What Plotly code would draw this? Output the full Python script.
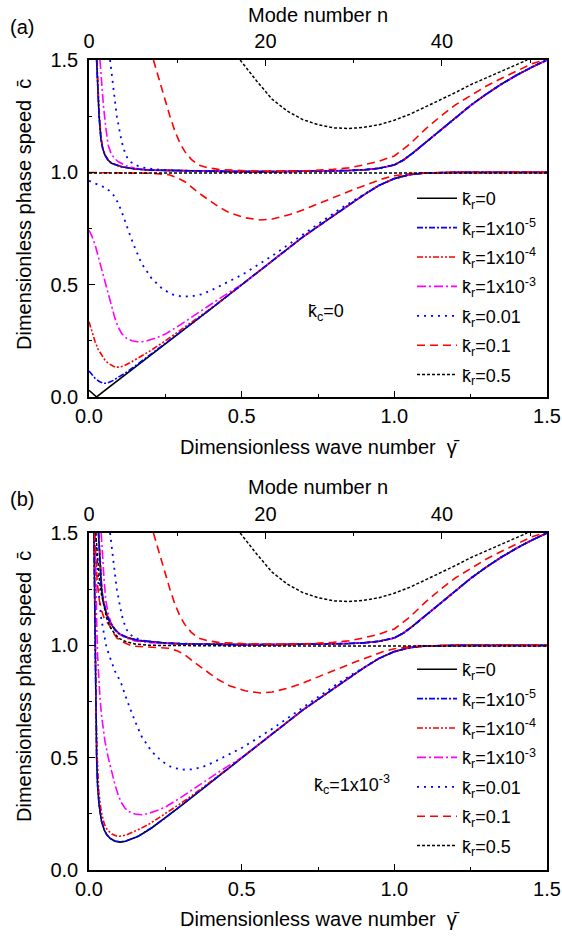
import plotly.graph_objects as go

# ---------------- data ----------------
# common upper-branch tail (curves with k_r <= 0.01)
UP_TAIL_G = [0.3, 0.4, 0.5, 0.6, 0.7, 0.8, 0.85, 0.9, 0.95, 1.0, 1.03, 1.06, 1.1, 1.15, 1.2, 1.25, 1.3, 1.35, 1.4, 1.45, 1.5]
UP_TAIL_C = [1.007, 1.004, 1.003, 1.003, 1.004, 1.006, 1.008, 1.011, 1.018, 1.033, 1.055, 1.085, 1.13, 1.186, 1.245, 1.298, 1.347, 1.392, 1.432, 1.468, 1.5]
# common lower-branch tail
LOW_TAIL_G = [0.5, 0.6, 0.7, 0.8, 0.85, 0.9, 0.95, 1.0, 1.05, 1.1, 1.2, 1.3, 1.5]
LOW_TAIL_C = [0.5, 0.607, 0.712, 0.806, 0.855, 0.9, 0.942, 0.972, 0.99, 0.997, 1.0, 1.0, 1.0]

# ---- panel (a), k_c = 0 ----
a_k0_up_g = [0.025, 0.028, 0.033, 0.039, 0.045, 0.052, 0.062, 0.074, 0.09, 0.107, 0.13, 0.151, 0.2]
a_k0_up_c = [1.5, 1.374, 1.25, 1.15, 1.105, 1.077, 1.055, 1.04, 1.031, 1.025, 1.019, 1.015, 1.01]
a_k0_lo_g = [0.0, 0.025, 0.05, 0.1, 0.15, 0.2, 0.25, 0.3, 0.35, 0.4, 0.45]
a_k0_lo_c = [0.03, 0.0, 0.027, 0.08, 0.132, 0.185, 0.237, 0.289, 0.341, 0.393, 0.446]

a_k5_up_g = [0.025, 0.028, 0.033, 0.039, 0.045, 0.052, 0.062, 0.074, 0.09, 0.107, 0.13, 0.151, 0.2]
a_k5_up_c = [1.5, 1.374, 1.25, 1.15, 1.105, 1.077, 1.055, 1.04, 1.031, 1.025, 1.019, 1.015, 1.01]
a_k5_lo_g = [0.0, 0.01, 0.02, 0.035, 0.047, 0.058, 0.069, 0.08, 0.096, 0.12, 0.15, 0.2, 0.25, 0.3, 0.35, 0.4, 0.45]
a_k5_lo_c = [0.116, 0.1, 0.083, 0.068, 0.061, 0.061, 0.066, 0.074, 0.088, 0.108, 0.137, 0.187, 0.238, 0.29, 0.341, 0.393, 0.446]

a_k4_up_g = [0.026, 0.029, 0.034, 0.04, 0.046, 0.053, 0.063, 0.075, 0.09, 0.107, 0.13, 0.151, 0.2]
a_k4_up_c = [1.5, 1.374, 1.25, 1.15, 1.105, 1.077, 1.055, 1.04, 1.031, 1.025, 1.019, 1.015, 1.01]
a_k4_lo_g = [0.0, 0.01, 0.02, 0.03, 0.041, 0.052, 0.063, 0.075, 0.085, 0.1, 0.115, 0.14, 0.172, 0.2, 0.25, 0.3, 0.35, 0.4, 0.45]
a_k4_lo_c = [0.335, 0.29, 0.246, 0.212, 0.187, 0.165, 0.15, 0.139, 0.133, 0.133, 0.139, 0.157, 0.182, 0.205, 0.25, 0.297, 0.345, 0.395, 0.446]

a_k3_up_g = [0.036, 0.041, 0.047, 0.055, 0.063, 0.072, 0.083, 0.096, 0.12, 0.15, 0.2]
a_k3_up_c = [1.5, 1.4, 1.3, 1.2, 1.12, 1.085, 1.062, 1.047, 1.03, 1.018, 1.011]
a_k3_lo_g = [0.0, 0.01, 0.02, 0.03, 0.041, 0.052, 0.063, 0.074, 0.085, 0.096, 0.107, 0.12, 0.14, 0.16, 0.175, 0.19, 0.216, 0.25, 0.3, 0.35, 0.4, 0.45]
a_k3_lo_c = [0.742, 0.715, 0.677, 0.625, 0.573, 0.512, 0.454, 0.4, 0.35, 0.31, 0.283, 0.264, 0.25, 0.246, 0.246, 0.25, 0.261, 0.28, 0.322, 0.368, 0.414, 0.458]

a_k2_up_g = [0.069, 0.074, 0.08, 0.091, 0.1, 0.107, 0.115, 0.123, 0.135, 0.151, 0.175, 0.205, 0.25]
a_k2_up_c = [1.5, 1.43, 1.374, 1.25, 1.18, 1.136, 1.1, 1.07, 1.048, 1.033, 1.022, 1.015, 1.01]
a_k2_lo_g = [0.0, 0.031, 0.058, 0.08, 0.096, 0.107, 0.118, 0.129, 0.14, 0.151, 0.172, 0.205, 0.238, 0.271, 0.303, 0.336, 0.369, 0.402, 0.456, 0.5, 0.55, 0.604, 0.66, 0.713, 0.77, 0.822, 0.87, 0.9]
a_k2_lo_c = [0.962, 0.944, 0.929, 0.899, 0.862, 0.825, 0.78, 0.736, 0.699, 0.662, 0.595, 0.528, 0.484, 0.457, 0.447, 0.448, 0.457, 0.476, 0.513, 0.543, 0.585, 0.632, 0.685, 0.736, 0.79, 0.837, 0.877, 0.902]

a_k1_up_g = [0.211, 0.23, 0.249, 0.265, 0.282, 0.298, 0.314, 0.335, 0.358, 0.39, 0.424, 0.47, 0.511, 0.6, 0.7, 0.8, 0.85, 0.9, 0.95, 1.0, 1.05, 1.1, 1.15, 1.2, 1.25, 1.3, 1.35, 1.4, 1.45, 1.49]
a_k1_up_c = [1.5, 1.41, 1.329, 1.25, 1.181, 1.13, 1.092, 1.058, 1.033, 1.02, 1.013, 1.009, 1.007, 1.005, 1.006, 1.013, 1.02, 1.033, 1.05, 1.073, 1.125, 1.19, 1.248, 1.3, 1.342, 1.383, 1.418, 1.452, 1.483, 1.5]
a_k1_lo_g = [0.0, 0.1, 0.2, 0.26, 0.29, 0.314, 0.34, 0.369, 0.4, 0.424, 0.46, 0.511, 0.56, 0.6, 0.658, 0.7, 0.767, 0.8, 0.877, 0.92, 0.964, 1.0, 1.06, 1.15, 1.5]
a_k1_lo_c = [0.999, 0.998, 0.996, 0.99, 0.975, 0.958, 0.93, 0.899, 0.87, 0.847, 0.82, 0.798, 0.788, 0.792, 0.812, 0.832, 0.869, 0.888, 0.929, 0.95, 0.972, 0.985, 0.995, 0.999, 1.0]

a_k05_up_g = [0.495, 0.55, 0.6, 0.65, 0.7, 0.75, 0.8, 0.85, 0.9, 0.95, 1.0, 1.05, 1.1, 1.15, 1.2, 1.25, 1.3, 1.35, 1.4, 1.435]
a_k05_up_c = [1.5, 1.405, 1.325, 1.272, 1.235, 1.212, 1.198, 1.195, 1.2, 1.212, 1.232, 1.258, 1.29, 1.322, 1.355, 1.39, 1.42, 1.45, 1.48, 1.5]
a_k05_lo_g = [0.0, 0.5, 1.0, 1.5]
a_k05_lo_c = [0.997, 0.997, 0.996, 0.997]

# ---- panel (b), k_c = 1e-3 ----
b_k0_up_g = [0.031, 0.034, 0.037, 0.041, 0.046, 0.052, 0.058, 0.07, 0.085, 0.1, 0.129, 0.16, 0.205, 0.25]
b_k0_up_c = [1.5, 1.42, 1.33, 1.255, 1.2, 1.16, 1.136, 1.1, 1.07, 1.05, 1.033, 1.022, 1.015, 1.01]
b_k0_lo_g = [0.016, 0.018, 0.02, 0.022, 0.025, 0.028, 0.033, 0.041, 0.05, 0.058, 0.07, 0.085, 0.102, 0.12, 0.14, 0.162, 0.205, 0.25, 0.3, 0.35, 0.4, 0.45]
b_k0_lo_c = [1.5, 1.2, 0.9, 0.7, 0.5, 0.38, 0.29, 0.217, 0.178, 0.157, 0.14, 0.128, 0.124, 0.128, 0.137, 0.15, 0.187, 0.231, 0.284, 0.338, 0.392, 0.445]

b_k5_up_g = [0.031, 0.034, 0.037, 0.041, 0.046, 0.052, 0.058, 0.07, 0.085, 0.1, 0.129, 0.16, 0.205, 0.25]
b_k5_up_c = [1.5, 1.42, 1.33, 1.255, 1.2, 1.16, 1.136, 1.1, 1.07, 1.05, 1.033, 1.022, 1.015, 1.01]
b_k5_lo_g = [0.016, 0.018, 0.02, 0.022, 0.025, 0.028, 0.033, 0.041, 0.05, 0.058, 0.07, 0.085, 0.102, 0.12, 0.14, 0.162, 0.205, 0.25, 0.3, 0.35, 0.4, 0.45]
b_k5_lo_c = [1.5, 1.2, 0.9, 0.7, 0.5, 0.38, 0.29, 0.218, 0.179, 0.158, 0.141, 0.129, 0.125, 0.129, 0.138, 0.151, 0.188, 0.232, 0.285, 0.338, 0.392, 0.445]

b_k4_up_g = [0.032, 0.035, 0.038, 0.042, 0.047, 0.053, 0.059, 0.071, 0.086, 0.1, 0.129, 0.16, 0.205, 0.25]
b_k4_up_c = [1.5, 1.42, 1.33, 1.255, 1.2, 1.16, 1.136, 1.1, 1.07, 1.05, 1.033, 1.022, 1.015, 1.01]
b_k4_lo_g = [0.017, 0.019, 0.021, 0.023, 0.027, 0.032, 0.04, 0.05, 0.06, 0.075, 0.09, 0.1, 0.12, 0.14, 0.17, 0.2, 0.25, 0.3, 0.35, 0.4, 0.45]
b_k4_lo_c = [1.5, 1.2, 0.95, 0.72, 0.5, 0.35, 0.26, 0.205, 0.178, 0.16, 0.151, 0.15, 0.155, 0.166, 0.185, 0.207, 0.25, 0.296, 0.344, 0.394, 0.446]

b_k3_up_g = [0.04, 0.044, 0.049, 0.055, 0.063, 0.072, 0.085, 0.1, 0.12, 0.15, 0.2]
b_k3_up_c = [1.5, 1.4, 1.3, 1.2, 1.14, 1.1, 1.07, 1.05, 1.033, 1.02, 1.012]
b_k3_lo_g = [0.02, 0.022, 0.025, 0.028, 0.031, 0.036, 0.041, 0.046, 0.052, 0.063, 0.074, 0.085, 0.096, 0.107, 0.118, 0.13, 0.151, 0.172, 0.19, 0.216, 0.25, 0.3, 0.35, 0.4, 0.45]
b_k3_lo_c = [1.5, 1.3, 1.1, 0.96, 0.86, 0.765, 0.69, 0.63, 0.575, 0.5, 0.435, 0.38, 0.332, 0.298, 0.275, 0.26, 0.249, 0.246, 0.25, 0.261, 0.28, 0.322, 0.368, 0.414, 0.458]

b_k2_up_g = [0.069, 0.074, 0.08, 0.091, 0.1, 0.107, 0.115, 0.123, 0.135, 0.151, 0.175, 0.205, 0.25]
b_k2_up_c = [1.5, 1.43, 1.374, 1.25, 1.18, 1.136, 1.1, 1.07, 1.048, 1.033, 1.022, 1.015, 1.01]
b_k2_lo_g = [0.022, 0.027, 0.033, 0.04, 0.048, 0.056, 0.065, 0.075, 0.085, 0.096, 0.107, 0.118, 0.129, 0.14, 0.151, 0.172, 0.205, 0.238, 0.271, 0.303, 0.336, 0.369, 0.402, 0.456, 0.5, 0.55, 0.604, 0.66, 0.713, 0.77, 0.822, 0.87, 0.9]
b_k2_lo_c = [1.5, 1.35, 1.22, 1.12, 1.05, 1.0, 0.96, 0.92, 0.885, 0.857, 0.825, 0.78, 0.736, 0.699, 0.662, 0.595, 0.528, 0.484, 0.457, 0.447, 0.448, 0.457, 0.476, 0.513, 0.543, 0.585, 0.632, 0.685, 0.736, 0.79, 0.837, 0.877, 0.902]

b_k1_up_g = a_k1_up_g
b_k1_up_c = a_k1_up_c
b_k1_lo_g = [0.018, 0.022, 0.027, 0.034, 0.042, 0.05, 0.06, 0.069, 0.08, 0.091, 0.105, 0.118, 0.135, 0.151, 0.205, 0.26, 0.29, 0.314, 0.34, 0.369, 0.4, 0.424, 0.46, 0.511, 0.56, 0.6, 0.658, 0.7, 0.767, 0.8, 0.877, 0.92, 0.964, 1.0, 1.06, 1.15, 1.5]
b_k1_lo_c = [1.5, 1.38, 1.28, 1.2, 1.15, 1.12, 1.1, 1.085, 1.055, 1.033, 1.018, 1.01, 1.0, 0.996, 0.991, 0.987, 0.975, 0.958, 0.93, 0.899, 0.87, 0.847, 0.82, 0.798, 0.788, 0.792, 0.812, 0.832, 0.869, 0.888, 0.929, 0.95, 0.972, 0.985, 0.995, 0.999, 1.0]

b_k05_up_g = a_k05_up_g
b_k05_up_c = a_k05_up_c
b_k05_lo_g = [0.022, 0.026, 0.03, 0.035, 0.041, 0.05, 0.058, 0.07, 0.085, 0.1, 0.118, 0.15, 0.2, 0.5, 1.0, 1.5]
b_k05_lo_c = [1.5, 1.42, 1.35, 1.28, 1.225, 1.16, 1.12, 1.08, 1.05, 1.03, 1.018, 1.006, 1.0, 0.997, 0.996, 0.997]

LEGEND_LABELS = ["k\u0304<sub>r</sub>=0", "k\u0304<sub>r</sub>=1x10<sup>-5</sup>", "k\u0304<sub>r</sub>=1x10<sup>-4</sup>",
                 "k\u0304<sub>r</sub>=1x10<sup>-3</sup>", "k\u0304<sub>r</sub>=0.01", "k\u0304<sub>r</sub>=0.1",
                 "k\u0304<sub>r</sub>=0.5"]
X_TICKS = [0.0, 0.5, 1.0, 1.5]
N_TICKS = [0, 20, 40]

# ---------------- helpers ----------------
FONT = "Liberation Sans, Arial, sans-serif"

def join(ug, uc, lg, lc, up_tail=False, low_tail=False, low_from=0.5, up_from=0.3):
    gu, cu = list(ug), list(uc)
    if up_tail:
        for g, c in zip(UP_TAIL_G, UP_TAIL_C):
            if g >= up_from:
                gu.append(g); cu.append(c)
    gl, cl = list(lg), list(lc)
    if low_tail:
        for g, c in zip(LOW_TAIL_G, LOW_TAIL_C):
            if g >= low_from:
                gl.append(g); cl.append(c)
    return gu + [None] + gl, cu + [None] + cl

styles = [
    dict(color="#000000", dash="solid", width=1.6),
    dict(color="#0000FF", dash="6px,2px,2px,2px", width=1.6),
    dict(color="#FF0000", dash="6px,2px,2px,2px,2px,2px", width=1.6),
    dict(color="#FF00FF", dash="9px,3px,2px,3px", width=1.6),
    dict(color="#0000FF", dash="2px,5px", width=1.8),
    dict(color="#FF0000", dash="8px,5px", width=1.6),
    dict(color="#000000", dash="3px,2px", width=1.5),
]

panel_a = [
    join(a_k0_up_g, a_k0_up_c, a_k0_lo_g, a_k0_lo_c, True, True),
    join(a_k5_up_g, a_k5_up_c, a_k5_lo_g, a_k5_lo_c, True, True),
    join(a_k4_up_g, a_k4_up_c, a_k4_lo_g, a_k4_lo_c, True, True),
    join(a_k3_up_g, a_k3_up_c, a_k3_lo_g, a_k3_lo_c, True, True),
    join(a_k2_up_g, a_k2_up_c, a_k2_lo_g, a_k2_lo_c, True, True, low_from=0.95),
    join(a_k1_up_g, a_k1_up_c, a_k1_lo_g, a_k1_lo_c),
    join(a_k05_up_g, a_k05_up_c, a_k05_lo_g, a_k05_lo_c),
]
panel_b = [
    join(b_k0_up_g, b_k0_up_c, b_k0_lo_g, b_k0_lo_c, True, True),
    join(b_k5_up_g, b_k5_up_c, b_k5_lo_g, b_k5_lo_c, True, True),
    join(b_k4_up_g, b_k4_up_c, b_k4_lo_g, b_k4_lo_c, True, True),
    join(b_k3_up_g, b_k3_up_c, b_k3_lo_g, b_k3_lo_c, True, True),
    join(b_k2_up_g, b_k2_up_c, b_k2_lo_g, b_k2_lo_c, True, True, low_from=0.95),
    join(b_k1_up_g, b_k1_up_c, b_k1_lo_g, b_k1_lo_c),
    join(b_k05_up_g, b_k05_up_c, b_k05_lo_g, b_k05_lo_c),
]

draw_order = [0, 3, 2, 1, 4, 5, 6]

fig = go.Figure()
for panel, xa, xt, ya, leg in [(panel_a, "x", "x2", "y", "legend"), (panel_b, "x3", "x4", "y2", "legend2")]:
    for i in draw_order:
        g, c = panel[i]
        fig.add_trace(go.Scatter(
            x=g, y=c, mode="lines", line=styles[i], name=LEGEND_LABELS[i],
            xaxis=xa, yaxis=ya, legend=leg, legendrank=i + 1, legendgroup=f"{leg}_{i}",
            connectgaps=False, hoverinfo="skip"))
    # empty helper trace so that the top "mode number" axis is drawn
    fig.add_trace(go.Scatter(x=N_TICKS, y=[None] * len(N_TICKS), mode="lines", xaxis=xt, yaxis=ya,
                             showlegend=False, hoverinfo="skip"))

XDOM = [89 / 562, 547 / 562]
YDOM_A = [1 - 397 / 939, 1 - 60 / 939]
YDOM_B = [1 - 870 / 939, 1 - 533 / 939]

axis_common = dict(showline=True, linecolor="black", linewidth=1.5, ticks="inside",
                   tickcolor="black", tickwidth=1.3, ticklen=6, showgrid=False, zeroline=False,
                   automargin=False, tickfont=dict(family=FONT, size=20, color="black"))
minor = dict(ticks="inside", ticklen=3.5, tickcolor="black", tickwidth=1.3, showgrid=False)

def xbottom(anchor):
    return dict(domain=XDOM, range=[0, 1.5], anchor=anchor, tickvals=X_TICKS,
                ticktext=[f"{v:.1f}" for v in X_TICKS], minor=dict(tickvals=[0.25, 0.75, 1.25], **minor),
                mirror=False, ticklabelstandoff=0, **axis_common)

def xtop(over, anchor):
    return dict(overlaying=over, side="top", range=[0, 51.9], anchor=anchor, tickvals=N_TICKS,
                minor=dict(tickvals=[10, 30, 50], **minor), ticklabelstandoff=2, **axis_common)

def yaxis(dom, anchor):
    return dict(domain=dom, range=[0, 1.5], anchor=anchor, tickvals=X_TICKS,
                ticktext=[f"{v:.1f}" for v in X_TICKS], minor=dict(tickvals=[0.25, 0.75, 1.25], **minor),
                mirror=True, ticklabelstandoff=5, **axis_common)

legend_common = dict(font=dict(family=FONT, size=18, color="black"), bgcolor="rgba(0,0,0,0)",
                     xanchor="left", yanchor="top", tracegroupgap=3, itemwidth=40)

ann = []
def text(x, y, s, size=20, angle=0):
    ann.append(dict(x=x / 562, y=1 - y / 939, xref="paper", yref="paper", text=s, showarrow=False,
                    textangle=angle, font=dict(family=FONT, size=size, color="black"),
                    xanchor="center", yanchor="middle"))

for off, lab, kc, kx in [(0, "(a)", "k\u0304<sub>c</sub>=0", 326),
                         (472, "(b)", "k\u0304<sub>c</sub>=1x10<sup>-3</sup>", 352)]:
    text(22, 27 + off, lab)
    text(318, 15 + off, "Mode number n")
    text(320, 447 + off, "Dimensionless wave number  \u03b3\u0304")
    text(24, 215 + off, "Dimensionless phase speed  c\u0304", angle=-90)
    text(kx, 312 + off, kc, size=18)

fig.update_layout(
    width=562, height=939, autosize=False,
    margin=dict(l=0, r=0, t=0, b=0, pad=0, autoexpand=False),
    paper_bgcolor="white", plot_bgcolor="white",
    font=dict(family=FONT, size=20, color="black"),
    xaxis=xbottom("y"), xaxis2=xtop("x", "y"), yaxis=yaxis(YDOM_A, "x"),
    xaxis3=xbottom("y2"), xaxis4=xtop("x3", "y2"), yaxis2=yaxis(YDOM_B, "x3"),
    legend=dict(x=412 / 562, y=1 - 180 / 939, **legend_common),
    legend2=dict(x=412 / 562, y=1 - 651 / 939, **legend_common),
    annotations=ann,
    showlegend=True,
)

fig.write_html("out.html")
